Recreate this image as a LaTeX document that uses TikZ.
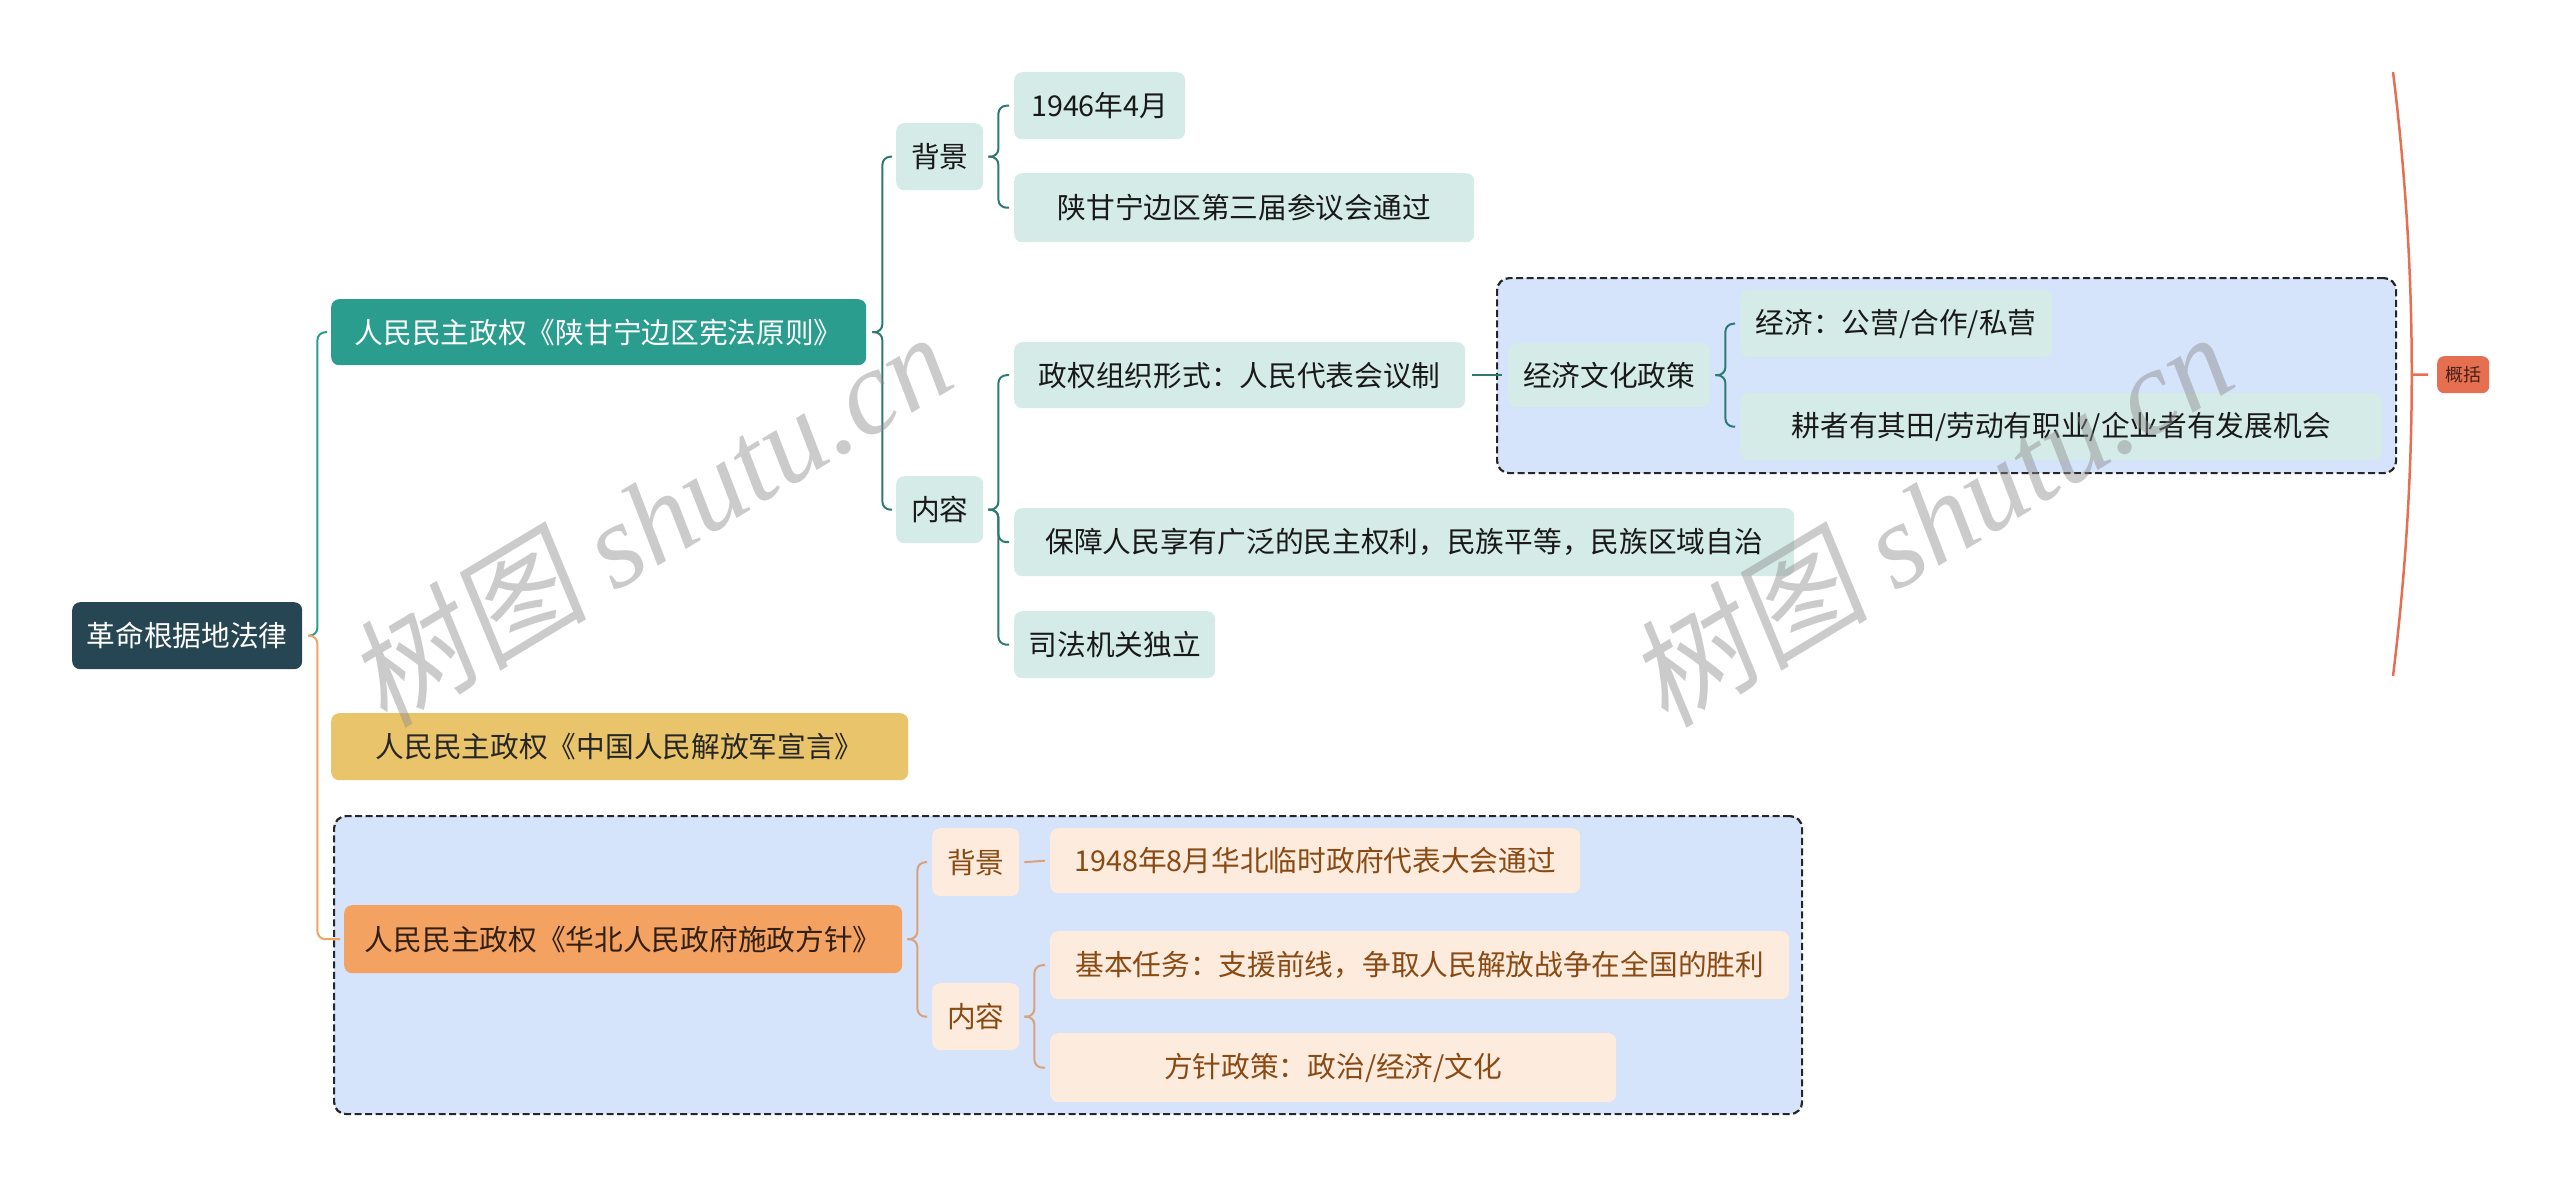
\documentclass[tikz,border=0pt]{standalone}
\usepackage{fontspec}
\setmainfont{Noto Sans CJK SC}
\newfontfamily\wmcjk[FakeSlant=0.15]{Noto Sans CJK SC}
\newfontfamily\wmlat{Liberation Serif}
\definecolor{rootc}{HTML}{264653}
\definecolor{tealc}{HTML}{2A9D8F}
\definecolor{tline}{HTML}{2C7A71}
\definecolor{yelc}{HTML}{E9C46A}
\definecolor{orac}{HTML}{F4A261}
\definecolor{oline}{HTML}{D9A27A}
\definecolor{coral}{HTML}{E76F51}
\definecolor{tsub}{HTML}{D4EBE8}
\definecolor{osub}{HTML}{FDEBDD}
\definecolor{bnd}{HTML}{D5E3FB}
\definecolor{otext}{HTML}{8A4A14}
\begin{document}
\begin{tikzpicture}[x=1pt,y=-1pt,
  box/.style n args={4}{at={(#1,#2)}, anchor=north west,
    minimum width={(#3-#1)*1pt}, minimum height={(#4-#2)*1pt}},
  base/.style={inner sep=0pt, rounded corners=8pt, align=center,
    font=\fontsize{28.7}{34}\selectfont},
  rootn/.style={base, fill=rootc, text=white},
  b1n/.style={base, fill=tealc, text=white},
  b2n/.style={base, fill=yelc, text=black!85},
  b3n/.style={base, fill=orac, text=black!80!orac},
  tn/.style={base, fill=tsub, text=black!90},
  on/.style={base, fill=osub, text=otext},
  bndn/.style={inner sep=0pt, rounded corners=12pt, fill=bnd, draw=black!85,
    line width=2.2pt, dash pattern=on 7pt off 3.5pt},
  gkn/.style={inner sep=0pt, rounded corners=7pt, fill=coral, text=black!70!coral,
    font=\fontsize{18}{22}\selectfont},
  conn/.style={line width=2pt, rounded corners=8pt},
]
\useasboundingbox (0,0) rectangle (2560,1185);

% boundaries
\node[bndn, box={333}{815}{1801}{1113}] (bnd3) {};
\node[bndn, box={1496}{277}{2395}{472}] (bnd2) {};

% main nodes
\node[rootn, box={72}{602}{302}{669}] (root) {革命根据地法律};
\node[b1n, box={331}{299}{866}{365}] (b1) {人民民主政权《陕甘宁边区宪法原则》};
\node[b2n, box={331}{713}{908}{780}] (b2) {人民民主政权《中国人民解放军宣言》};
\node[b3n, box={344}{905}{902}{973}] (b3) {人民民主政权《华北人民政府施政方针》};

% branch 1
\node[tn, box={896}{123}{983}{190}] (bg1) {背景};
\node[tn, box={896}{476}{983}{543}] (nr1) {内容};
\node[tn, box={1014}{72}{1185}{139}] (d1946) {1946年4月};
\node[tn, box={1014}{173}{1474}{242}] (shan) {陕甘宁边区第三届参议会通过};
\node[tn, box={1014}{342}{1465}{408}] (zq) {政权组织形式：人民代表会议制};
\node[tn, box={1014}{508}{1794}{576}] (bz) {保障人民享有广泛的民主权利，民族平等，民族区域自治};
\node[tn, box={1014}{611}{1215}{678}] (sf) {司法机关独立};
\node[tn, box={1508}{343}{1710}{407}] (jjwh) {经济文化政策};
\node[tn, box={1740}{290}{2052}{357}] (jj) {经济：公营/合作/私营};
\node[tn, box={1740}{393}{2382}{460}] (gz) {耕者有其田/劳动有职业/企业者有发展机会};

% branch 3
\node[on, box={932}{828}{1019}{896}] (bg3) {背景};
\node[on, box={932}{983}{1019}{1050}] (nr3) {内容};
\node[on, box={1050}{828}{1580}{893}] (d1948) {1948年8月华北临时政府代表大会通过};
\node[on, box={1050}{931}{1789}{999}] (jb) {基本任务：支援前线，争取人民解放战争在全国的胜利};
\node[on, box={1050}{1033}{1616}{1102}] (fz) {方针政策：政治/经济/文化};

% summary label
\node[gkn, box={2437}{356}{2489}{393}] (gk) {概括};

% connectors root
\draw[conn, tealc] ([xshift=6pt]root.east) -- ++(9,0) |- ([xshift=-4pt]b1.west);
\draw[conn, orac] ([xshift=6pt]root.east) -- ++(9,0) |- ([xshift=-4pt]b3.west);

% branch 1 connectors
\draw[conn, tline] ([xshift=6pt]b1.east) -- ++(10,0) |- ([xshift=-4pt]bg1.west);
\draw[conn, tline] ([xshift=6pt]b1.east) -- ++(10,0) |- ([xshift=-4pt]nr1.west);
\draw[conn, tline] ([xshift=5pt]bg1.east) -- ++(10,0) |- ([xshift=-5pt]d1946.west);
\draw[conn, tline] ([xshift=5pt]bg1.east) -- ++(10,0) |- ([xshift=-5pt]shan.west);
\draw[conn, tline] ([xshift=5pt]nr1.east) -- ++(10,0) |- ([xshift=-5pt]zq.west);
\draw[conn, tline] ([xshift=5pt]nr1.east) -- ++(10,0) |- ([xshift=-5pt]bz.west);
\draw[conn, tline] ([xshift=5pt]nr1.east) -- ++(10,0) |- ([xshift=-5pt]sf.west);
\draw[conn, tline] ([xshift=7pt]zq.east) -- ([xshift=-6pt]jjwh.west);
\draw[conn, tline] ([xshift=5pt]jjwh.east) -- ++(10,0) |- ([xshift=-5pt]jj.west);
\draw[conn, tline] ([xshift=5pt]jjwh.east) -- ++(10,0) |- ([xshift=-5pt]gz.west);

% branch 3 connectors
\draw[conn, oline] ([xshift=5pt]b3.east) -- ++(10,0) |- ([xshift=-5pt]bg3.west);
\draw[conn, oline] ([xshift=5pt]b3.east) -- ++(10,0) |- ([xshift=-5pt]nr3.west);
\draw[conn, oline] ([xshift=5pt]bg3.east) -- ([xshift=-5pt]d1948.west);
\draw[conn, oline] ([xshift=5pt]nr3.east) -- ++(10,0) |- ([xshift=-5pt]jb.west);
\draw[conn, oline] ([xshift=5pt]nr3.east) -- ++(10,0) |- ([xshift=-5pt]fz.west);

% summary brace
\coordinate (st) at (2393,72);
\coordinate (sb) at (2393,676);
\coordinate (sm) at (2412,374.5);
\draw[coral, line width=2.5pt] (st) .. controls (2418,274) and (2418,474) .. (sb);
\draw[coral, line width=2.5pt] (sm) -- ([xshift=-9pt]gk.west);

% watermarks
\node[rotate=31, text=black!45, opacity=0.45, inner sep=0pt] (wm1) at (649,518)
  {\fontsize{120}{130}\selectfont{\wmcjk 树图} {\wmlat\itshape shutu.cn}};
\node[rotate=31, text=black!45, opacity=0.45, inner sep=0pt] (wm2) at (1930,518)
  {\fontsize{120}{130}\selectfont{\wmcjk 树图} {\wmlat\itshape shutu.cn}};
\end{tikzpicture}
\end{document}
